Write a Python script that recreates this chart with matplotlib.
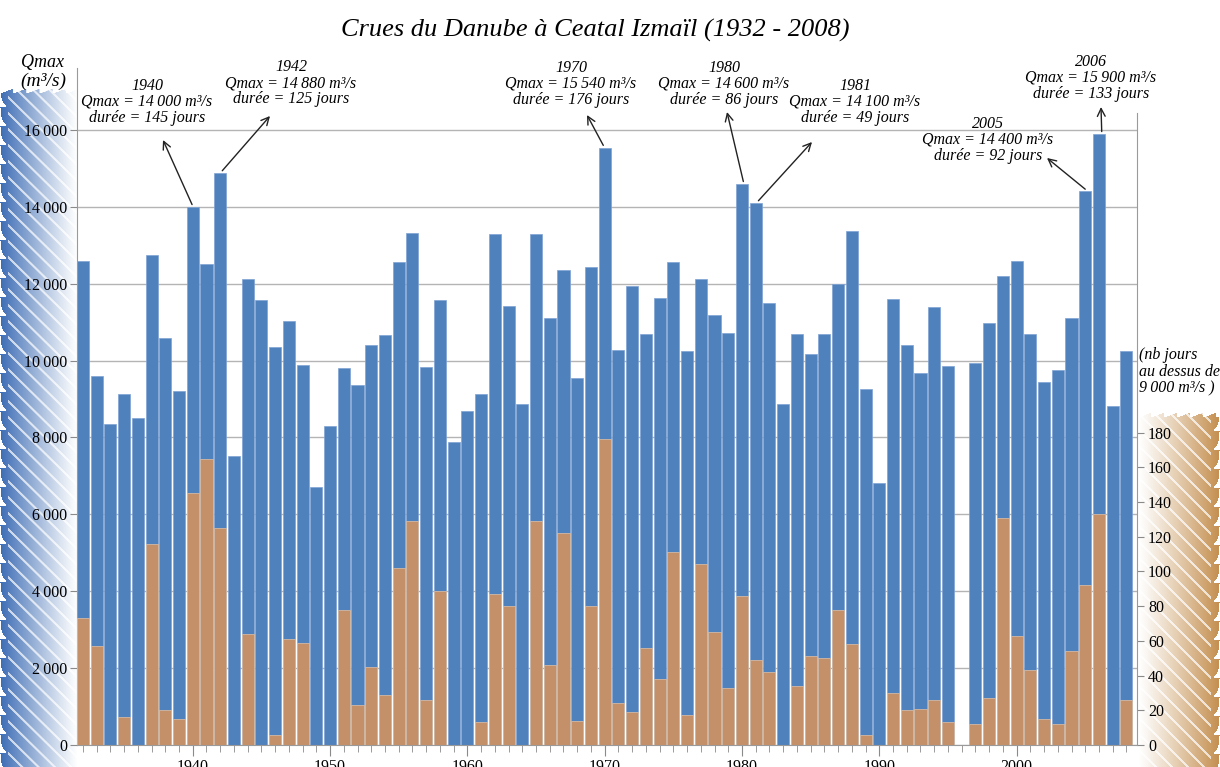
"""Crues du Danube a Ceatal Izmail, 1932-2008: Qmax and days above 9000 m3/s."""

import matplotlib
matplotlib.use("Agg")
import matplotlib.pyplot as plt
import numpy as np
from matplotlib.ticker import FixedLocator, MultipleLocator

W, H = 1220, 767
BLUE = "#4f81bd"
ORANGE = "#c4906a"
FONT = "Liberation Serif"

years = list(range(1932, 2009))
qmax = [
    12600, 9600, 8360, 9140, 8500, 12740, 10600, 9220, 14000, 12520,   # 1932-1941
    14880, 7530, 12120, 11580, 10350, 11020, 9880, 6700, 8310, 9800,   # 1942-1951
    9370, 10410, 10660, 12560, 13320, 9830, 11570, 7880, 8700, 9140,   # 1952-1961
    13300, 11420, 8860, 13300, 11110, 12370, 9550, 12430, 15540, 10270,  # 1962-1971
    11950, 10700, 11620, 12560, 10250, 12120, 11180, 10710, 14600, 14100,  # 1972-1981
    11500, 8860, 10690, 10180, 10700, 12000, 13380, 9270, 6820, 11600,  # 1982-1991
    10400, 9670, 11400, 9850, np.nan, 9950, 10990, 12210, 12590, 10700,  # 1992-2001
    9450, 9750, 11100, 14400, 15900, 8830, 10260,                      # 2002-2008
]
days = [
    73, 57, 0, 16, 0, 116, 20, 15, 145, 165,
    125, 0, 64, 0, 6, 61, 59, 0, 0, 78,
    23, 45, 29, 102, 129, 26, 89, 0, 0, 13,
    87, 80, 0, 129, 46, 122, 14, 80, 176, 24,
    19, 56, 38, 111, 17, 104, 65, 33, 86, 49,
    42, 0, 34, 51, 50, 78, 58, 6, 0, 30,
    20, 21, 26, 13, np.nan, 12, 27, 131, 63, 43,
    15, 12, 54, 92, 133, 0, 26,
]

left_ticks = list(range(0, 16001, 2000))
right_ticks = list(range(0, 181, 20))
decades = [1940, 1950, 1960, 1970, 1980, 1990, 2000]

# annotated floods
flood_years = [1940, 1942, 1970, 1980, 1981, 2005, 2006]
flood_days = [145, 125, 176, 86, 49, 92, 133]


def fmt(v):
    return f"{v:,}".replace(",", "\u2009")


def px(x, y):
    """Image pixel (origin top-left) -> figure fraction."""
    return x / W, 1 - y / H


def brush(w, h, rgb, colored_left):
    """Brush-stroke gradient used as axis decoration."""
    yy, xx = np.mgrid[0:h, 0:w].astype(float)
    dist = xx if colored_left else (w - 1 - xx)
    u = dist / (w - 1)
    strength = np.clip(1 - u, 0, 1) ** 1.1
    phase = ((yy - xx) / 16.0) % 1.0
    streak = (phase < 0.16) & (u > 0.1)
    alpha = strength * np.where(streak, 0.3, 1.0)
    edge = 7 * ((yy / 19.0) % 1.0) ** 3
    alpha[dist < edge] = 0
    alpha[yy < 5 * (1 - ((xx / 13.0) % 1.0))] = 0
    img = np.zeros((h, w, 4))
    img[..., :3] = np.array(matplotlib.colors.to_rgb(rgb))
    img[..., 3] = np.clip(alpha, 0, 1)
    return img


fig = plt.figure(figsize=(W / 100, H / 100), dpi=100)

# decorations behind the axis labels
deco_l = fig.add_axes([0, 0, 77 / W, (H - 88) / H], zorder=0)
deco_l.imshow(brush(77, H - 88, "#3c6cb4", True), aspect="auto")
deco_l.axis("off")
deco_r = fig.add_axes([1138 / W, 0, 82 / W, (H - 412) / H], zorder=0)
deco_r.imshow(brush(82, H - 412, "#c48e4e", False), aspect="auto")
deco_r.axis("off")

ax = fig.add_axes([77 / W, 1 - 745 / H, (1137 - 77) / W, (745 - 68) / H], zorder=1)
ax2 = ax.twinx()
ax2.set_zorder(2)
ax2.patch.set_visible(False)

yrs = np.array(years, dtype=float)
q = np.array(qmax, dtype=float)
d = np.array(days, dtype=float)
ok = ~np.isnan(q)

ax.bar(yrs[ok], q[ok], width=0.88, color=BLUE, edgecolor="#7fa3d3", linewidth=0.5)
ax2.bar(yrs[ok], d[ok], width=0.88, color=ORANGE, edgecolor="#e0c2a8", linewidth=0.5)

ax.set_xlim(1931.57, 2008.77)
ax.set_ylim(0, 17613)
ax2.set_ylim(0, 390)

ax.yaxis.set_major_locator(FixedLocator(left_ticks))
ax.set_yticklabels([fmt(v) for v in left_ticks])
ax2.yaxis.set_major_locator(FixedLocator(right_ticks))
ax2.set_yticklabels([str(v) for v in right_ticks])
ax.xaxis.set_major_locator(FixedLocator(decades))
ax.xaxis.set_minor_locator(MultipleLocator(1))
ax.set_xticklabels([str(v) for v in decades])

ax.yaxis.grid(True, color="#b4b4b4", linewidth=1)
ax.set_axisbelow(True)

for a in (ax, ax2):
    for s in a.spines.values():
        s.set_color("#9a9a9a")
    a.spines["top"].set_visible(False)
ax.spines["right"].set_visible(False)
ax2.spines["left"].set_visible(False)
ax2.spines["bottom"].set_visible(False)
ax2.spines["right"].set_bounds(0, 364)

ax.tick_params(axis="y", length=5, color="#8a8a8a", pad=2, labelsize=11.5)
ax.tick_params(axis="x", which="major", length=8, color="#8a8a8a", pad=2, labelsize=11.5)
ax.tick_params(axis="x", which="minor", length=5, color="#8a8a8a")
ax2.tick_params(axis="y", length=5, color="#8a8a8a", pad=3, labelsize=11.5)
for lab in ax.get_xticklabels() + ax.get_yticklabels() + ax2.get_yticklabels():
    lab.set_fontfamily(FONT)

# titles and axis captions
fig.text(*px(595, 30), "Crues du Danube à Ceatal Izmaïl (1932 - 2008)", ha="center", va="center",
         fontsize=19, fontstyle="italic", family=FONT)
fig.text(*px(43, 62), "Qmax", ha="center", va="center", fontsize=13, fontstyle="italic", family=FONT)
fig.text(*px(43, 81), "(m³/s)", ha="center", va="center", fontsize=14, fontstyle="italic", family=FONT)
fig.text(*px(1139, 372), "(nb jours\nau dessus de\n9\u2009000 m³/s )", ha="left", va="center",
         fontsize=11.5, fontstyle="italic", family=FONT, linespacing=1.05)

# annotations: text centre (px), arrow head (px), tail offset in years
text_pos = [(147, 102), (291, 83), (571, 84), (724, 84), (855, 102), (988, 140), (1091, 78)]
heads = [(163, 140), (270, 116), (587, 115), (727, 112), (812, 142), (1047, 158), (1101, 107)]
tail_dx = [-0.05, 0.15, -0.1, 0.1, 0.2, 0.0, 0.2]

for yr, nd, (tx, ty), head, dx in zip(flood_years, flood_days, text_pos, heads, tail_dx):
    qv = qmax[years.index(yr)]
    label = f"{yr}\nQmax = {fmt(qv)} m³/s\ndurée = {nd} jours"
    fig.text(*px(tx, ty), label, ha="center", va="center", fontsize=11.5, fontstyle="italic",
             family=FONT, linespacing=1.0)
    ax.annotate("", xy=px(*head), xycoords="figure fraction", xytext=(yr + dx, qv + 60),
                textcoords="data",
                arrowprops=dict(arrowstyle="->", lw=1.0, color="#222222", shrinkA=0, shrinkB=0,
                                mutation_scale=14))

fig.savefig("out.png", dpi=100)
